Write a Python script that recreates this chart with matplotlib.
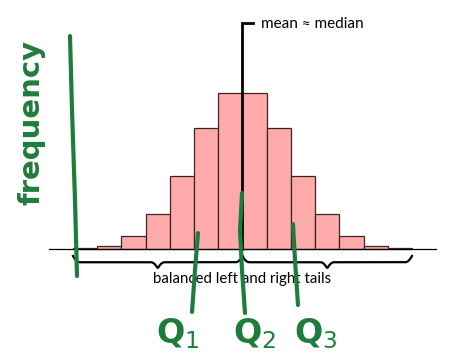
import numpy as np
import matplotlib
matplotlib.use('Agg')
import matplotlib.pyplot as plt

# histogram (14 equal bins, symmetric)
bin_edges = list(range(15))
counts = [0.4, 2.1, 8.2, 22.3, 47.1, 77.9, 100, 100, 77.9, 47.1, 22.3, 8.2, 2.1, 0.4]
mean_value = 7.0
mean_label = 'mean \u2248 median'
tails_label = 'balanced left and right tails'
quartile_labels = ['Q$_1$', 'Q$_2$', 'Q$_3$']

green = '#1f7d3c'

fig = plt.figure(figsize=(4.73, 3.63), dpi=100)
ax = fig.add_axes([0, 0, 1, 1])
ax.set_xlim(-3.015, 16.52)
ax.set_ylim(-73.2, 159.9)
ax.axis('off')

ax.hist(bin_edges[:-1], bins=bin_edges, weights=counts,
        color='#ffaaaa', edgecolor='#3a2424', linewidth=0.9)

# baseline
ax.plot([bin_edges[0] - 1, bin_edges[-1] + 1], [0, 0], color='black', lw=0.9)

# mean marker
ax.plot([mean_value, mean_value, mean_value + 0.45], [0, 145, 145],
        color='black', lw=2, solid_joinstyle='miter')
ax.text(mean_value + 0.78, 144.5, mean_label, fontsize=11, family='Lato',
        va='center', ha='left')

# braces under the two halves
def brace(x0, x1, y, h):
    t = np.linspace(0, 1, 200)
    xs = x0 + (x1 - x0) * t
    a = np.clip(t / 0.04, 0, 1)
    b = np.clip((1 - t) / 0.04, 0, 1)
    c = np.clip(np.abs(t - 0.5) / 0.04, 0, 1)
    ys = y + h * (1 - a) ** 2 + h * (1 - b) ** 2 - h * (1 - c) ** 2
    return xs, ys

lo, hi = bin_edges[0], bin_edges[-1]
for x0, x1 in [(lo, mean_value), (mean_value, hi)]:
    xs, ys = brace(x0, x1, -8.5, 4.0)
    ax.plot(xs, ys, color='black', lw=1.6)
ax.text(mean_value, -19, tails_label, fontsize=10.8, family='Lato',
        ha='center', va='center')

# hand-drawn annotations, in pixel space
ov = fig.add_axes([0, 0, 1, 1])
ov.set_xlim(0, 473)
ov.set_ylim(363, 0)
ov.axis('off')
ov.patch.set_alpha(0)

ov.plot([70, 72, 75, 77], [36, 110, 200, 276], color=green, lw=3, solid_capstyle='round')
ov.text(31, 122, 'frequency', rotation=90, color=green, fontsize=21,
        ha='center', va='center', family='DejaVu Sans', fontweight='bold')

ov.plot([198, 195, 192], [233, 270, 312], color=green, lw=3, solid_capstyle='round')
ov.plot([242, 240, 242, 245], [193, 230, 270, 313], color=green, lw=3, solid_capstyle='round')
ov.plot([293, 295, 298], [224, 260, 305], color=green, lw=3, solid_capstyle='round')

for x, lab in zip([178, 255, 316], quartile_labels):
    ov.text(x, 334, lab, color=green, fontsize=24, ha='center', va='center',
            family='DejaVu Sans', fontweight='bold')

fig.savefig('out.png', dpi=100)
